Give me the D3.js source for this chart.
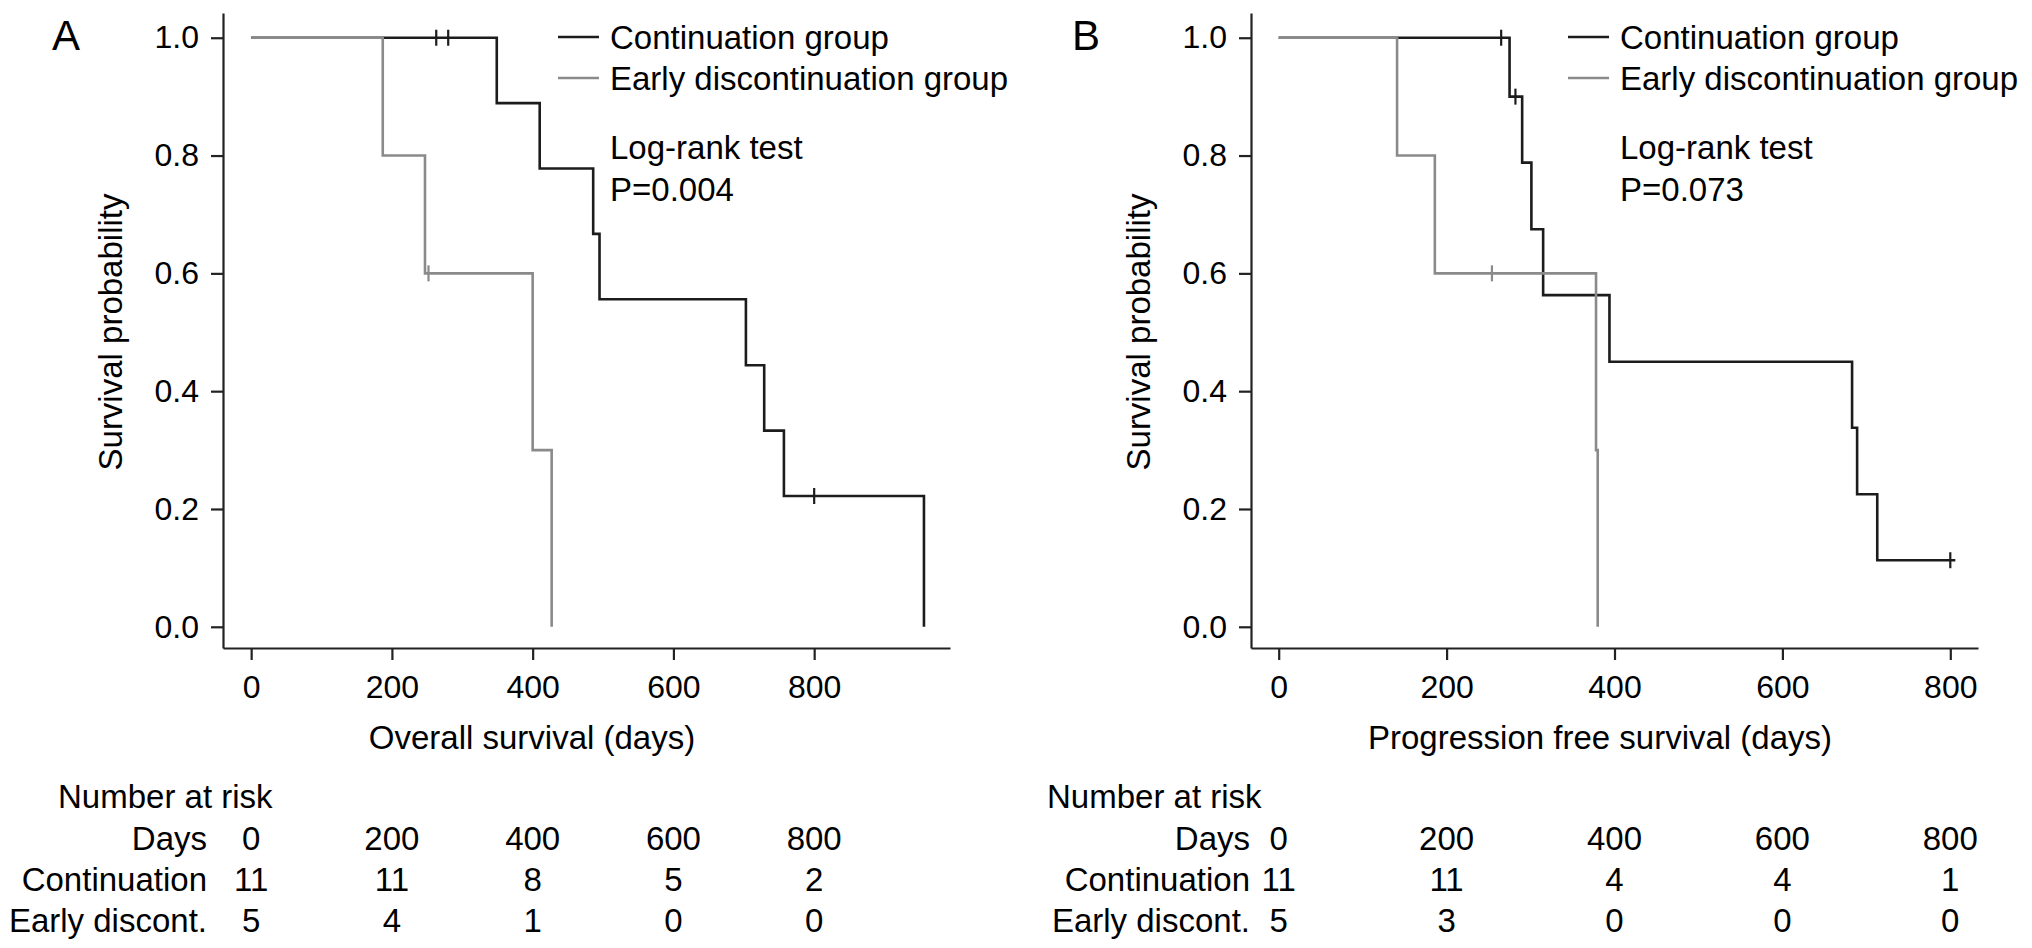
<!DOCTYPE html>
<html>
<head>
<meta charset="utf-8">
<script src="https://cdn.jsdelivr.net/npm/d3@7"></script>
<style>
  html, body { margin: 0; padding: 0; background: #fff; }
  svg text { font-family: "Liberation Sans", Arial, Helvetica, sans-serif; fill: #000; }
</style>
</head>
<body>
<svg id="chart" width="2032" height="948"></svg>
<script>
// tick labels / categories
const riskDays = [0, 200, 400, 600, 800];
const yTicks = [0, 0.2, 0.4, 0.6, 0.8, 1.0];
const groupNames = ['Continuation group', 'Early discontinuation group'];
const riskLabels = ['Continuation', 'Early discont.'];

// A: overall survival, step times (days) and survival after each step
const osContTimes = [0, 349, 410, 486, 495, 703, 729, 757, 956];
const osContSurv = [1, 0.889, 0.778, 0.667, 0.556, 0.444, 0.333, 0.222, 0];
const osContCensor = [263, 280, 800];
const osEarlyTimes = [0, 187, 247, 400, 427];
const osEarlySurv = [1, 0.8, 0.6, 0.3, 0];
const osEarlyCensor = [252];
const osRiskCont = [11, 11, 8, 5, 2];
const osRiskEarly = [5, 4, 1, 0, 0];

// B: progression free survival
const pfsContTimes = [0, 275, 290, 301, 315, 394, 683, 689, 713];
const pfsContSurv = [1, 0.9, 0.788, 0.675, 0.563, 0.45, 0.338, 0.225, 0.113];
const pfsContEnd = 806;
const pfsContCensor = [265, 282, 800];
const pfsEarlyTimes = [0, 141, 186, 378, 380];
const pfsEarlySurv = [1, 0.8, 0.6, 0.3, 0];
const pfsEarlyCensor = [254];
const pfsRiskCont = [11, 11, 4, 4, 1];
const pfsRiskEarly = [5, 3, 0, 0, 0];

/**
 * default config
 */
const defaults = {
  target: '#chart',
  font_size: 33,
  black: '#1c1c1c',
  grey: '#8a8a8a',
  y_domain: [-0.036, 1.042],
  y_range: [648, 13]
};

/**
 * one Kaplan-Meier panel with legend and risk table
 */
class KMPanel {

  constructor(config) {
    Object.assign(this, defaults, config);
    this.init();
  }

  init() {
    this.x = d3.scaleLinear().domain(this.x_domain).range(this.x_range);
    this.y = d3.scaleLinear().domain(this.y_domain).range(this.y_range);
    this.g = d3.select(this.target).append('g');
  }

  render_axes() {
    let { g, x, y } = this;
    let left = this.x_range[0];

    let ya = g.append('g')
      .attr('transform', `translate(${left},0)`)
      .call(d3.axisLeft(y).tickValues(yTicks).tickFormat(d3.format('.1f'))
        .tickSize(12).tickSizeOuter(0).tickPadding(12));

    let xa = g.append('g')
      .attr('transform', `translate(0,${this.y_range[0]})`)
      .call(d3.axisBottom(x).tickValues(riskDays).tickFormat(d3.format('d'))
        .tickSize(12).tickSizeOuter(0).tickPadding(15));

    [ya, xa].forEach(a => {
      a.attr('font-family', null).attr('font-size', 32);
      a.selectAll('path, line').attr('stroke', '#222').attr('stroke-width', 2.2);
      a.selectAll('text').attr('fill', '#000');
    });

    // panel letter
    g.append('text').attr('x', this.letter_x).attr('y', 50)
      .attr('font-size', 42).text(this.letter);

    // axis titles
    g.append('text')
      .attr('transform', `translate(${left - 113},332) rotate(-90)`)
      .attr('text-anchor', 'middle').attr('dy', '0.35em')
      .attr('font-size', this.font_size).text('Survival probability');

    g.append('text').attr('x', this.xtitle_x).attr('y', 737).attr('dy', '0.35em')
      .attr('text-anchor', 'middle').attr('font-size', this.font_size)
      .text(this.x_title);
  }

  render_curve(times, surv, end, censor, color) {
    let { g, x, y } = this;
    let pts = times.map((t, i) => [t, surv[i]]);
    if (end != null) pts.push([end, surv[surv.length - 1]]);

    let line = d3.line().curve(d3.curveStepAfter).x(d => x(d[0])).y(d => y(d[1]));
    g.append('path').datum(pts).attr('d', line)
      .attr('fill', 'none').attr('stroke', color).attr('stroke-width', 2.6);

    // censor marks
    let at = t => surv[d3.bisectRight(times, t) - 1];
    g.append('g').selectAll('line').data(censor).join('line')
      .attr('x1', d => x(d)).attr('x2', d => x(d))
      .attr('y1', d => y(at(d)) - 8).attr('y2', d => y(at(d)) + 8)
      .attr('stroke', color).attr('stroke-width', 2.2);
  }

  render_legend() {
    let { g } = this;
    let lx = this.legend_x;
    let rows = [37, 78];
    let colors = [this.black, this.grey];

    groupNames.forEach((name, i) => {
      g.append('line').attr('x1', lx).attr('x2', lx + 41)
        .attr('y1', rows[i]).attr('y2', rows[i])
        .attr('stroke', colors[i]).attr('stroke-width', 2.4);
      g.append('text').attr('x', lx + 52).attr('y', rows[i]).attr('dy', '0.35em')
        .attr('font-size', this.font_size).text(name);
    });

    g.append('text').attr('x', lx + 52).attr('y', 147).attr('dy', '0.35em')
      .attr('font-size', this.font_size).text('Log-rank test');
    g.append('text').attr('x', lx + 52).attr('y', 189).attr('dy', '0.35em')
      .attr('font-size', this.font_size).text(this.p_text);
  }

  render_risk(cont, early) {
    let { g, x } = this;
    let fs = this.font_size;
    let right = this.risk_label_right;

    g.append('text').attr('x', this.risk_title_x).attr('y', 796).attr('dy', '0.35em')
      .attr('font-size', fs).text('Number at risk');

    let rows = [
      { label: 'Days', y: 838, values: riskDays },
      { label: riskLabels[0], y: 879, values: cont },
      { label: riskLabels[1], y: 920, values: early }
    ];

    rows.forEach(r => {
      g.append('text').attr('x', right).attr('y', r.y).attr('dy', '0.35em')
        .attr('text-anchor', 'end').attr('font-size', fs).text(r.label);
      g.append('g').selectAll('text').data(r.values).join('text')
        .attr('x', (d, i) => x(riskDays[i])).attr('y', r.y).attr('dy', '0.35em')
        .attr('text-anchor', 'middle').attr('font-size', fs)
        .text(d => d);
    });
  }
}

let panelA = new KMPanel({
  letter: 'A', letter_x: 52,
  x_domain: [-40, 993], x_range: [223, 950],
  x_title: 'Overall survival (days)', xtitle_x: 532,
  legend_x: 558, p_text: 'P=0.004',
  risk_label_right: 207, risk_title_x: 58
});
panelA.render_axes();
panelA.render_curve(osContTimes, osContSurv, null, osContCensor, panelA.black);
panelA.render_curve(osEarlyTimes, osEarlySurv, null, osEarlyCensor, panelA.grey);
panelA.render_legend();
panelA.render_risk(osRiskCont, osRiskEarly);

let panelB = new KMPanel({
  letter: 'B', letter_x: 1072,
  x_domain: [-33, 833], x_range: [1251, 1978],
  x_title: 'Progression free survival (days)', xtitle_x: 1600,
  legend_x: 1568, p_text: 'P=0.073',
  risk_label_right: 1250, risk_title_x: 1047
});
panelB.render_axes();
panelB.render_curve(pfsContTimes, pfsContSurv, pfsContEnd, pfsContCensor, panelB.black);
panelB.render_curve(pfsEarlyTimes, pfsEarlySurv, null, pfsEarlyCensor, panelB.grey);
panelB.render_legend();
panelB.render_risk(pfsRiskCont, pfsRiskEarly);
</script>
</body>
</html>
